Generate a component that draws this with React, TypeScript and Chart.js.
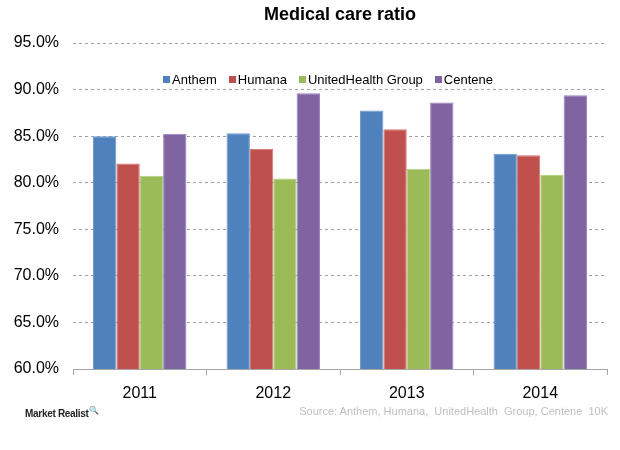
import React, { useEffect, useRef } from "react";
import { Chart, registerables } from "chart.js";

Chart.register(...registerables);

const years = ["2011", "2012", "2013", "2014"];
const anthem = [85.0, 85.3, 87.75, 83.1];
const humana = [82.05, 83.65, 85.75, 82.95];
const unitedHealth = [80.75, 80.45, 81.5, 80.85];
const centene = [85.25, 89.6, 88.6, 89.4];
const seriesNames = ["Anthem", "Humana", "UnitedHealth Group", "Centene"];
const seriesColors = ["#4F81BD", "#C0504D", "#9BBB59", "#8064A2"];
const seriesBorders = ["#6E99CF", "#D27471", "#B1CE7A", "#9A82BA"];

const FONT = "'Liberation Sans', Arial, sans-serif";

export default function App() {
  const ref = useRef<HTMLCanvasElement | null>(null);

  useEffect(() => {
    if (!ref.current) return;
    const values = [anthem, humana, unitedHealth, centene];
    const chart = new Chart(ref.current, {
      type: "bar",
      data: {
        labels: years,
        datasets: values.map((v, i) => ({
          label: seriesNames[i],
          data: v,
          backgroundColor: seriesColors[i],
          borderColor: seriesBorders[i],
          borderWidth: 1,
          categoryPercentage: 0.7,
          barPercentage: 1.0,
        })),
      },
      options: {
        animation: false,
        responsive: false,
        maintainAspectRatio: false,
        layout: { padding: { top: 43, left: 0, right: 13, bottom: 0 } },
        plugins: {
          legend: { display: false },
          title: { display: false },
          tooltip: { enabled: false },
        },
        scales: {
          x: {
            grid: {
              display: true,
              drawOnChartArea: false,
              drawTicks: true,
              tickLength: 6,
              color: "#A6A6A6",
            },
            border: { display: true, color: "#A6A6A6", width: 1 },
            ticks: {
              color: "#000",
              font: { family: FONT, size: 16 },
              padding: 9,
            },
            afterFit: (s: any) => {
              s.height = 81;
            },
          },
          y: {
            min: 60,
            max: 95,
            grid: {
              color: "#A0A0A0",
              drawTicks: false,
            },
            border: { display: false, dash: [3, 3] },
            ticks: {
              stepSize: 5,
              color: "#000",
              font: { family: FONT, size: 16 },
              padding: 14,
              callback: (v: any) => Number(v).toFixed(1) + "%",
            },
            afterFit: (s: any) => {
              s.width = 73;
            },
          },
        },
      },
    });
    return () => chart.destroy();
  }, []);

  return (
    <div
      style={{
        position: "fixed",
        left: 0,
        top: 0,
        width: 620,
        height: 450,
        background: "#fff",
        fontFamily: FONT,
      }}
    >
      <canvas ref={ref} width={620} height={450} style={{ position: "absolute", left: 0, top: 0 }} />
      <div
        style={{
          position: "absolute",
          left: 0,
          width: 680,
          top: 4,
          textAlign: "center",
          fontWeight: "bold",
          fontSize: 18,
          color: "#000",
        }}
      >
        Medical care ratio
      </div>
      <div
        style={{
          position: "absolute",
          left: 163,
          top: 72,
          display: "flex",
          alignItems: "center",
          fontSize: 13,
          color: "#000",
          whiteSpace: "nowrap",
        }}
      >
        {seriesNames.map((n, i) => (
          <span key={n} style={{ display: "flex", alignItems: "center", marginRight: 12 }}>
            <span
              style={{
                display: "inline-block",
                width: 7,
                height: 7,
                background: seriesColors[i],
                marginRight: 2,
              }}
            />
            {n}
          </span>
        ))}
      </div>
      <div
        style={{
          position: "absolute",
          left: 25,
          top: 406,
          fontSize: 10,
          fontWeight: "bold",
          color: "#222",
          letterSpacing: -0.3,
        }}
      >
        Market Realist<sup style={{ fontSize: 8 }}>🔍</sup>
      </div>
      <div
        style={{
          position: "absolute",
          right: 12,
          top: 405,
          fontSize: 11,
          color: "#BFBFBF",
          whiteSpace: "pre",
        }}
      >
        {"Source: Anthem, Humana,  UnitedHealth  Group, Centene  10K"}
      </div>
    </div>
  );
}
